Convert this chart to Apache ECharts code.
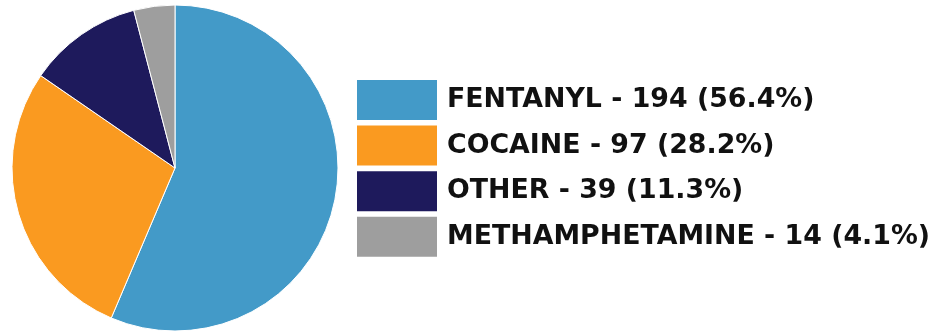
<!DOCTYPE html>
<html>
<head>
<meta charset="utf-8">
<script src="https://cdn.jsdelivr.net/npm/echarts@6/dist/echarts.min.js"></script>
<style>
  html, body { margin: 0; padding: 0; background: #fff; }
  #chart { width: 938px; height: 334px; }
</style>
</head>
<body>
<div id="chart"></div>
<script>
// Drug categories and counts
const categories = ['FENTANYL', 'COCAINE', 'OTHER', 'METHAMPHETAMINE'];
const counts = [194, 97, 39, 14];
const colors = ['#439AC8', '#FA9A20', '#1E1A5C', '#9E9E9E'];

const total = counts.reduce((a, b) => a + b, 0);
const labelFor = {};
categories.forEach((c, i) => {
  labelFor[c] = c + ' - ' + counts[i] + ' (' + (counts[i] / total * 100).toFixed(1) + '%)';
});

const chart = echarts.init(document.getElementById('chart'), null, { renderer: 'canvas' });
chart.setOption({
  animation: false,
  color: colors,
  legend: {
    orient: 'vertical',
    left: 357,
    top: 80,
    padding: 0,
    itemWidth: 80,
    itemHeight: 40,
    itemGap: 5.6,
    icon: 'rect',
    selectedMode: false,
    itemStyle: { borderWidth: 0 },
    formatter: name => labelFor[name],
    textStyle: {
      fontFamily: 'DejaVu Sans',
      fontWeight: 'bold',
      fontSize: 26.8,
      lineHeight: 35,
      color: '#111',
      padding: [5, 0, 0, 5]
    }
  },
  series: [{
    type: 'pie',
    center: [175, 168],
    radius: 163,
    startAngle: 90,
    clockwise: true,
    label: { show: false },
    labelLine: { show: false },
    itemStyle: { borderColor: '#fff', borderWidth: 1 },
    emphasis: { disabled: true },
    data: categories.map((c, i) => ({ name: c, value: counts[i] }))
  }]
});
</script>
</body>
</html>
